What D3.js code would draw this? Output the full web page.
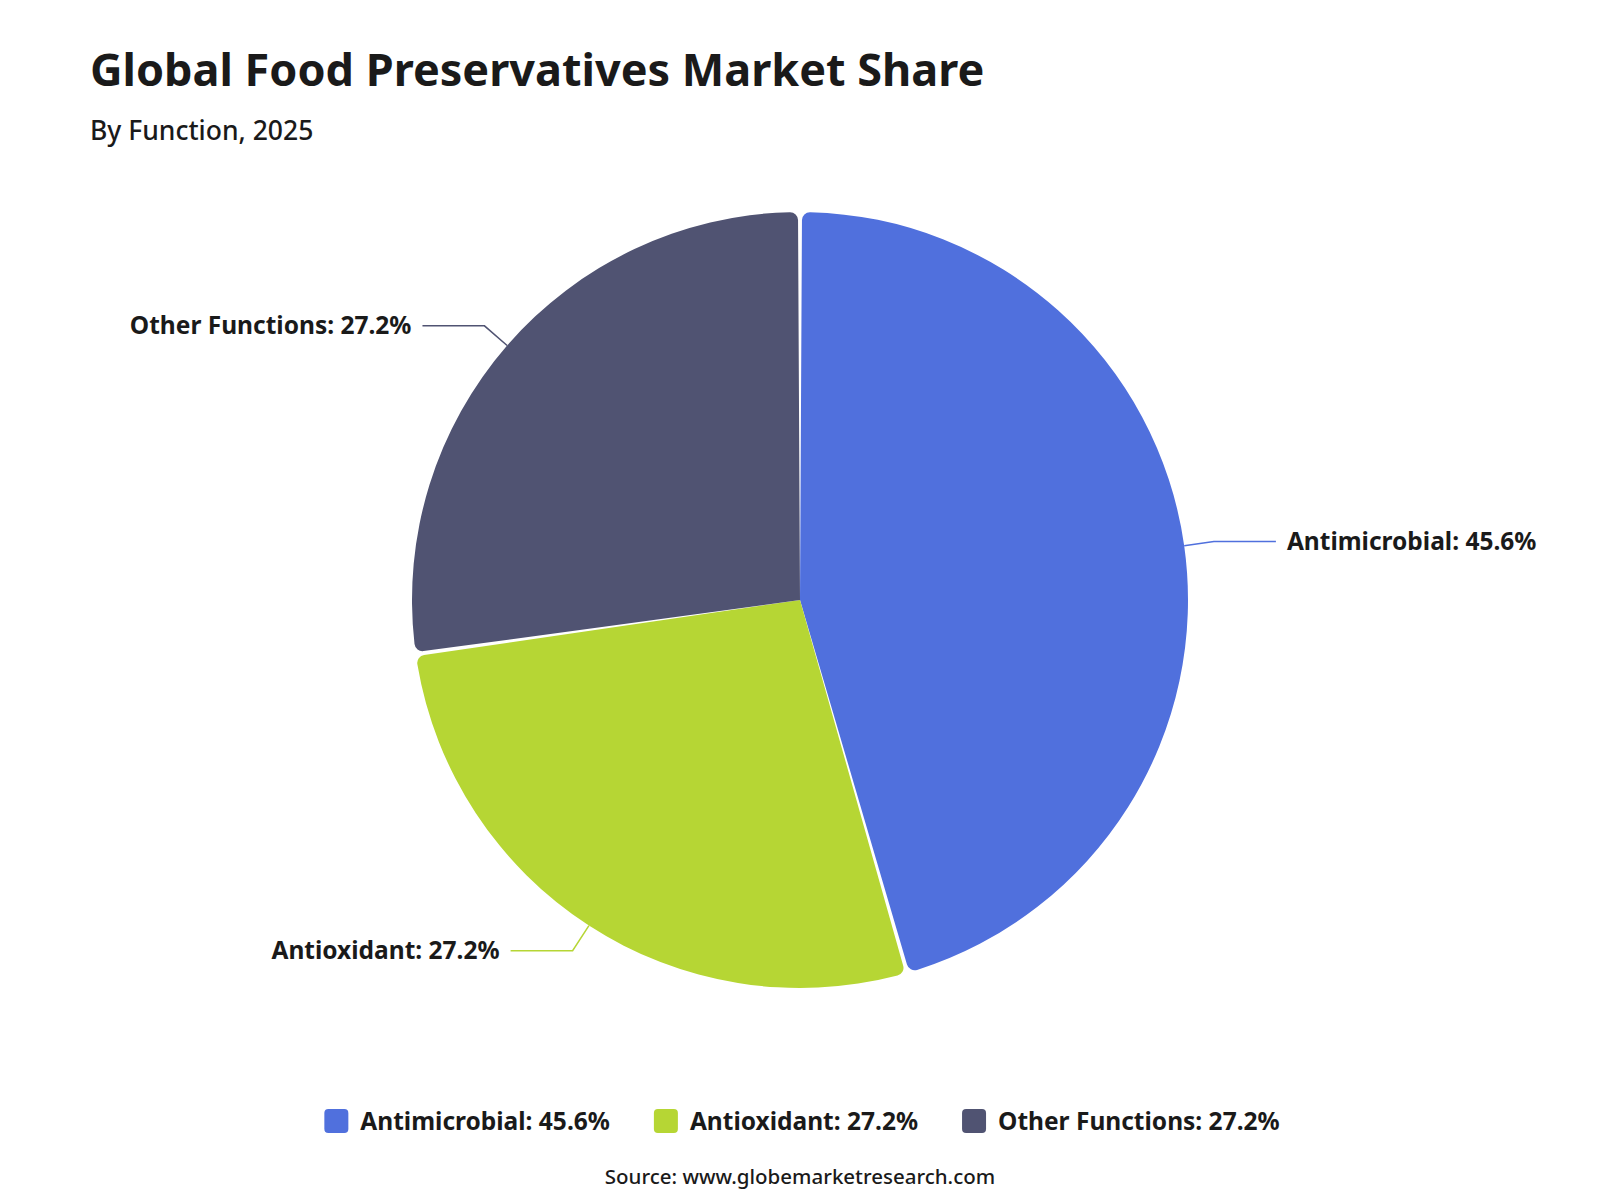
<!DOCTYPE html>
<html>
<head>
<meta charset="utf-8">
<script src="https://cdn.jsdelivr.net/npm/d3@7"></script>
<style>
  html, body { margin: 0; padding: 0; background: #ffffff; }
  svg { display: block; }
</style>
</head>
<body>
<svg id="chart" width="1600" height="1200"></svg>
<script>
// ---- data ----
const categories = ["Antimicrobial", "Antioxidant", "Other Functions"];
const shares = [45.6, 27.2, 27.2];
const colors = ["#5070dd", "#b6d634", "#505372"];
const titleText = "Global Food Preservatives Market Share";
const subtitleText = "By Function, 2025";
const sourceText = "Source: www.globemarketresearch.com";

const font = "'Noto Sans', 'Open Sans', sans-serif";
const textColor = "#1a1a1a";

const svg = d3.select("#chart");
const W = 1600, H = 1200;
svg.append("rect").attr("width", W).attr("height", H).attr("fill", "#fff");

// title
svg.append("text").attr("x", 90).attr("y", 86)
  .attr("font-family", font).attr("font-weight", 700).attr("font-size", 45)
  .attr("fill", textColor).text(titleText);
svg.append("text").attr("x", 90).attr("y", 140)
  .attr("font-family", font).attr("font-weight", 500).attr("font-size", 26.5)
  .attr("fill", textColor).text(subtitleText);

// pie
const cx = 800, cy = 600, R = 388;
const data = categories.map((c, i) => ({ name: c, value: shares[i], color: colors[i] }));
const pie = d3.pie().value(d => d.value).sort(null).padAngle(4 / R);
const arcs = pie(data);
const arc = d3.arc().innerRadius(0).outerRadius(R).cornerRadius(8);

const g = svg.append("g").attr("transform", `translate(${cx},${cy})`);
g.selectAll("path.slice").data(arcs).enter().append("path")
  .attr("class", "slice")
  .attr("d", arc)
  .attr("fill", d => d.data.color);

// labels with leader lines
const len1 = 30, len2 = 62, gap = 11;
arcs.forEach(a => {
  const mid = (a.startAngle + a.endAngle) / 2;
  const dx = Math.sin(mid), dy = -Math.cos(mid);
  const p0 = [dx * R, dy * R];
  const p1 = [dx * (R + len1), dy * (R + len1)];
  const side = dx >= 0 ? 1 : -1;
  const p2 = [p1[0] + side * len2, p1[1]];
  g.append("path")
    .attr("d", d3.line()([p0, p1, p2]))
    .attr("fill", "none").attr("stroke", a.data.color).attr("stroke-width", 1.5);
  g.append("text")
    .attr("x", p2[0] + side * gap).attr("y", p2[1])
    .attr("dy", "0.35em")
    .attr("text-anchor", side > 0 ? "start" : "end")
    .attr("font-family", font).attr("font-weight", 700).attr("font-size", 24.5)
    .attr("fill", textColor)
    .text(`${a.data.name}: ${a.data.value.toFixed(1)}%`);
});

// legend
const legY = 1121, box = 24, boxGap = 12, itemGap = 44;
const leg = svg.append("g");
const items = leg.selectAll("g.item").data(data).enter().append("g").attr("class", "item");
items.append("rect").attr("width", box).attr("height", box).attr("rx", 4)
  .attr("y", legY - box / 2).attr("fill", d => d.color);
items.append("text").attr("x", box + boxGap).attr("y", legY).attr("dy", "0.35em")
  .attr("font-family", font).attr("font-weight", 700).attr("font-size", 24.5)
  .attr("fill", textColor)
  .text(d => `${d.name}: ${d.value.toFixed(1)}%`);
let xPos = 0;
items.each(function () {
  const sel = d3.select(this);
  sel.attr("transform", `translate(${xPos},0)`);
  const tw = sel.select("text").node().getComputedTextLength();
  xPos += box + boxGap + tw + itemGap;
});
const totalW = xPos - itemGap;
leg.attr("transform", `translate(${cx + 2 - totalW / 2},0)`);

// source
svg.append("text").attr("x", cx).attr("y", 1177).attr("dy", "0.35em")
  .attr("text-anchor", "middle")
  .attr("font-family", font).attr("font-weight", 500).attr("font-size", 20.5)
  .attr("fill", textColor).text(sourceText);
</script>
</body>
</html>
